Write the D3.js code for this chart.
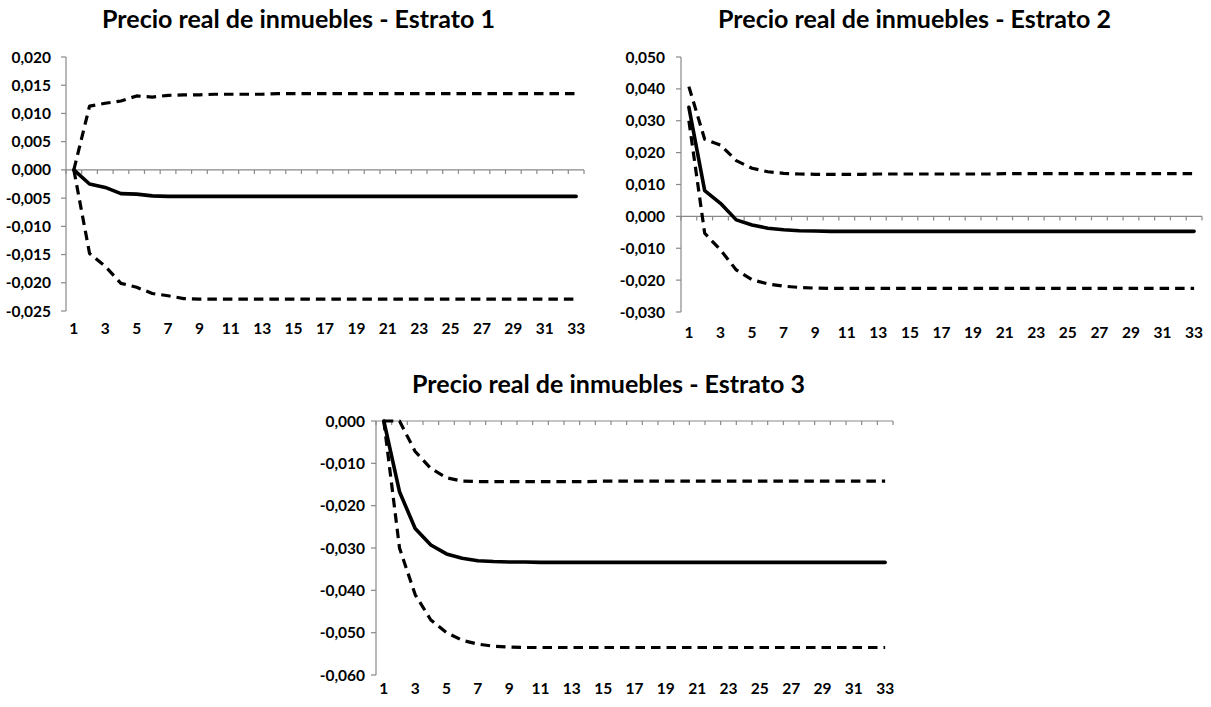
<!DOCTYPE html>
<html>
<head>
<meta charset="utf-8">
<script src="https://cdn.jsdelivr.net/npm/d3@7"></script>
<style>
  html, body { margin: 0; padding: 0; background: #fff; }
  svg { display: block; }
  text { font-family: Lato, "Open Sans", sans-serif; font-weight: bold; fill: #000; }
</style>
</head>
<body>
<svg id="chart" width="1211" height="707"></svg>
<script>
// ---------------- DATA ----------------
const periods = [1,2,3,4,5,6,7,8,9,10,11,12,13,14,15,16,17,18,19,20,21,22,23,24,25,26,27,28,29,30,31,32,33];
const xTickLabels = [1,3,5,7,9,11,13,15,17,19,21,23,25,27,29,31,33];

const titles = [
  "Precio real de inmuebles - Estrato 1",
  "Precio real de inmuebles - Estrato 2",
  "Precio real de inmuebles - Estrato 3"
];

// Estrato 1
const e1Mid = [0, -0.0025, -0.0031, -0.0042, -0.0043, -0.0046, -0.0047, -0.0047, -0.0047, -0.0047, -0.0047, -0.0047, -0.0047, -0.0047, -0.0047, -0.0047, -0.0047, -0.0047, -0.0047, -0.0047, -0.0047, -0.0047, -0.0047, -0.0047, -0.0047, -0.0047, -0.0047, -0.0047, -0.0047, -0.0047, -0.0047, -0.0047, -0.0047];
const e1Up  = [0, 0.0113, 0.0118, 0.0122, 0.0131, 0.0129, 0.0132, 0.0133, 0.0133, 0.0134, 0.0134, 0.0134, 0.0134, 0.0135, 0.0135, 0.0135, 0.0135, 0.0135, 0.0135, 0.0135, 0.0135, 0.0135, 0.0135, 0.0135, 0.0135, 0.0135, 0.0135, 0.0135, 0.0135, 0.0135, 0.0135, 0.0135, 0.0135];
const e1Lo  = [0, -0.0148, -0.0171, -0.0201, -0.0208, -0.0219, -0.0223, -0.0228, -0.0229, -0.0229, -0.0229, -0.0229, -0.0229, -0.0229, -0.0229, -0.0229, -0.0229, -0.0229, -0.0229, -0.0229, -0.0229, -0.0229, -0.0229, -0.0229, -0.0229, -0.0229, -0.0229, -0.0229, -0.0229, -0.0229, -0.0229, -0.0229, -0.0229];
const e1Ticks = [0.020, 0.015, 0.010, 0.005, 0.000, -0.005, -0.010, -0.015, -0.020, -0.025];

// Estrato 2
const e2Mid = [0.0342, 0.0081, 0.0041, -0.0011, -0.0027, -0.0037, -0.0042, -0.0045, -0.0046, -0.0047, -0.0047, -0.0047, -0.0047, -0.0047, -0.0047, -0.0047, -0.0047, -0.0047, -0.0047, -0.0047, -0.0047, -0.0047, -0.0047, -0.0047, -0.0047, -0.0047, -0.0047, -0.0047, -0.0047, -0.0047, -0.0047, -0.0047, -0.0047];
const e2Up  = [0.0407, 0.0242, 0.0224, 0.0175, 0.0151, 0.0140, 0.0135, 0.0133, 0.0132, 0.0132, 0.0132, 0.0132, 0.0133, 0.0133, 0.0133, 0.0133, 0.0133, 0.0133, 0.0133, 0.0133, 0.0134, 0.0134, 0.0134, 0.0134, 0.0134, 0.0134, 0.0134, 0.0134, 0.0134, 0.0134, 0.0134, 0.0134, 0.0134];
const e2Lo  = [0.0300, -0.0053, -0.0105, -0.0168, -0.0199, -0.0212, -0.0219, -0.0223, -0.0225, -0.0226, -0.0226, -0.0226, -0.0226, -0.0226, -0.0226, -0.0226, -0.0226, -0.0226, -0.0226, -0.0226, -0.0226, -0.0226, -0.0226, -0.0226, -0.0226, -0.0226, -0.0226, -0.0226, -0.0226, -0.0226, -0.0226, -0.0226, -0.0226];
const e2Ticks = [0.050, 0.040, 0.030, 0.020, 0.010, 0.000, -0.010, -0.020, -0.030];

// Estrato 3
const e3Mid = [0, -0.0167, -0.0254, -0.0293, -0.0314, -0.0324, -0.0330, -0.0332, -0.0333, -0.0333, -0.0334, -0.0334, -0.0334, -0.0334, -0.0334, -0.0334, -0.0334, -0.0334, -0.0334, -0.0334, -0.0334, -0.0334, -0.0334, -0.0334, -0.0334, -0.0334, -0.0334, -0.0334, -0.0334, -0.0334, -0.0334, -0.0334, -0.0334];
const e3Up  = [0, 0, -0.0072, -0.0112, -0.0134, -0.0142, -0.0143, -0.0143, -0.0143, -0.0143, -0.0143, -0.0143, -0.0143, -0.0143, -0.0142, -0.0142, -0.0142, -0.0142, -0.0142, -0.0142, -0.0142, -0.0142, -0.0142, -0.0142, -0.0142, -0.0142, -0.0142, -0.0142, -0.0142, -0.0142, -0.0142, -0.0142, -0.0142];
const e3Lo  = [0, -0.0300, -0.0410, -0.0470, -0.0500, -0.0518, -0.0527, -0.0532, -0.0534, -0.0535, -0.0535, -0.0535, -0.0535, -0.0535, -0.0535, -0.0535, -0.0535, -0.0535, -0.0535, -0.0535, -0.0535, -0.0535, -0.0535, -0.0535, -0.0535, -0.0535, -0.0535, -0.0535, -0.0535, -0.0535, -0.0535, -0.0535, -0.0535];
const e3Ticks = [0.000, -0.010, -0.020, -0.030, -0.040, -0.050, -0.060];

// ---------------- LAYOUT ----------------
const panels = [
  { title: titles[0], mid: e1Mid, up: e1Up, lo: e1Lo, ticks: e1Ticks,
    x0: 66, x1: 584, yTop: 57, yBot: 311, titleX: 298.5, titleY: 28, xLabY: 328, labGap: 15 },
  { title: titles[1], mid: e2Mid, up: e2Up, lo: e2Lo, ticks: e2Ticks,
    x0: 681, x1: 1202, yTop: 57, yBot: 312, titleX: 914.5, titleY: 28, xLabY: 332, labGap: 16 },
  { title: titles[2], mid: e3Mid, up: e3Up, lo: e3Lo, ticks: e3Ticks,
    x0: 376, x1: 893, yTop: 421, yBot: 675, titleX: 608.5, titleY: 393, xLabY: 688, labGap: 11 }
];

const locale = d3.formatLocale({ decimal: ",", thousands: ".", grouping: [3], currency: ["", ""], minus: "-" });
const fmt = locale.format(".3f");
const axisColor = "#898989";
const labelSize = "15.5px";
const svg = d3.select("#chart");

panels.forEach(p => {
  const g = svg.append("g");
  const x = d3.scaleBand().domain(periods).range([p.x0, p.x1]).padding(0);
  const cx = d => x(d) + x.bandwidth() / 2;
  const y = d3.scaleLinear()
    .domain([d3.min(p.ticks), d3.max(p.ticks)])
    .range([p.yBot, p.yTop]);
  const y0 = y(0);

  // y axis line + ticks
  g.append("line").attr("x1", p.x0).attr("x2", p.x0).attr("y1", p.yTop).attr("y2", p.yBot)
    .attr("stroke", axisColor).attr("stroke-width", 1.2);
  g.selectAll(".yt").data(p.ticks).join("line")
    .attr("x1", p.x0 - 5).attr("x2", p.x0)
    .attr("y1", d => y(d)).attr("y2", d => y(d))
    .attr("stroke", axisColor).attr("stroke-width", 1.2);
  g.selectAll(".yl").data(p.ticks).join("text")
    .attr("x", p.x0 - p.labGap).attr("y", d => y(d))
    .attr("dy", "0.36em").attr("text-anchor", "end")
    .style("font-size", labelSize)
    .text(d => fmt(d));

  // x axis at zero, with ticks at band boundaries
  g.append("line").attr("x1", p.x0).attr("x2", p.x1).attr("y1", y0).attr("y2", y0)
    .attr("stroke", axisColor).attr("stroke-width", 1.2);
  const bounds = periods.map(d => x(d)).concat([p.x1]);
  g.selectAll(".xt").data(bounds).join("line")
    .attr("x1", d => d).attr("x2", d => d)
    .attr("y1", y0).attr("y2", y0 + 4)
    .attr("stroke", axisColor).attr("stroke-width", 1.2);
  g.selectAll(".xl").data(xTickLabels).join("text")
    .attr("x", d => cx(d)).attr("y", p.xLabY).attr("dy", "0.36em")
    .attr("text-anchor", "middle")
    .style("font-size", labelSize)
    .text(d => d);

  const line = d3.line().x((d, i) => cx(periods[i])).y(d => y(d));

  [p.up, p.lo].forEach(s => {
    g.append("path").attr("d", line(s)).attr("fill", "none")
      .attr("stroke", "#000").attr("stroke-width", 3.2)
      .attr("stroke-dasharray", "9.5,6")
      .attr("stroke-linejoin", "round");
  });
  g.append("path").attr("d", line(p.mid)).attr("fill", "none")
    .attr("stroke", "#000").attr("stroke-width", 3.6)
    .attr("stroke-linejoin", "round").attr("stroke-linecap", "round");

  // title (fitted to reference width)
  const t = g.append("text").attr("x", p.titleX).attr("y", p.titleY)
    .attr("text-anchor", "middle").style("font-size", "20px").text(p.title);
  const w = t.node().getComputedTextLength();
  t.style("font-size", (20 * 393 / w).toFixed(2) + "px");
});
</script>
</body>
</html>
